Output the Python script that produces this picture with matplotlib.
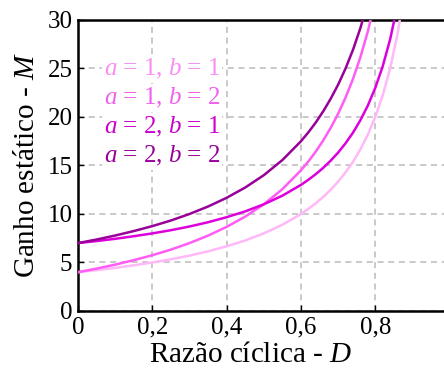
import matplotlib
matplotlib.use("Agg")
import matplotlib.pyplot as plt

# duty cycle values and static gain
D = [0, 0.05, 0.1, 0.15, 0.2, 0.25, 0.3, 0.35, 0.4, 0.45, 0.5, 0.55, 0.6,
     0.62, 0.64, 0.66, 0.68, 0.70, 0.72, 0.74, 0.76, 0.78, 0.80, 0.82,
     0.84, 0.86, 0.88]
M_a1b1 = [4.00, 4.21, 4.44, 4.71, 5.00, 5.33, 5.71, 6.15, 6.67, 7.27, 8.00,
          8.89, 10.00, 10.53, 11.11, 11.76, 12.50, 13.33, 14.29, 15.38, 16.67,
          18.18, 20.00, 22.22, 25.00, 28.57, 33.33]
M_a1b2 = [4.00, 4.37, 4.78, 5.24, 5.75, 6.33, 7.00, 7.77, 8.67, 9.73, 11.00,
          12.56, 14.50, 15.42, 16.44, 17.59, 18.88, 20.33, 22.00, 23.92, 26.17,
          28.82, 32.00, 35.89, 40.75, 47.00, 55.33]
M_a2b1 = [7.00, 7.21, 7.44, 7.71, 8.00, 8.33, 8.71, 9.15, 9.67, 10.27, 11.00,
          11.89, 13.00, 13.53, 14.11, 14.76, 15.50, 16.33, 17.29, 18.38, 19.67,
          21.18, 23.00, 25.22, 28.00, 31.57, 36.33]
M_a2b2 = [7.00, 7.37, 7.78, 8.24, 8.75, 9.33, 10.00, 10.77, 11.67, 12.73, 14.00,
          15.56, 17.50, 18.42, 19.44, 20.59, 21.88, 23.33, 25.00, 26.92, 29.17,
          31.82, 35.00, 38.89, 43.75, 50.00, 58.33]

labels = [r"$a$ = 1, $b$ = 1", r"$a$ = 1, $b$ = 2",
          r"$a$ = 2, $b$ = 1", r"$a$ = 2, $b$ = 2"]
line_colors = ["#ffb8f8", "#ff5cf5", "#dd00dd", "#990099"]
text_colors = ["#f98ef2", "#f060ec", "#cc00cc", "#990099"]

x_ticks = [0, 0.2, 0.4, 0.6, 0.8]
x_ticklabels = ["0", "0,2", "0,4", "0,6", "0,8"]
y_ticks = [0, 5, 10, 15, 20, 25, 30]

plt.rcParams["font.family"] = ["Liberation Serif", "DejaVu Serif"]
plt.rcParams["mathtext.fontset"] = "custom"
plt.rcParams["mathtext.rm"] = "Liberation Serif"
plt.rcParams["mathtext.it"] = "Liberation Serif:italic"

fig = plt.figure(figsize=(4.44, 3.69), dpi=100)
ax = fig.add_axes([0.1757, 0.1572, 0.8243, 0.7886])

for ys, c in zip([M_a1b1, M_a1b2, M_a2b1, M_a2b2], line_colors):
    ax.plot(D, ys, color=c, lw=1.8, zorder=3)

ax.set_xlim(0, 0.985)
ax.set_ylim(0, 30)
ax.set_xticks(x_ticks)
ax.set_xticklabels(x_ticklabels)
ax.set_yticks(y_ticks)
ax.tick_params(direction="in", length=4, width=1, labelsize=18)
ax.tick_params(axis="x", pad=4)
ax.tick_params(axis="y", pad=4)
ax.grid(True, color="#bbbbbb", ls=(0, (4, 3)), lw=1.1)
for s in ["left", "bottom", "top"]:
    ax.spines[s].set_linewidth(1.8)
ax.spines["right"].set_visible(False)

ax.set_xlabel(r"Razão cíclica - $D$", fontsize=21, va="center")
ax.xaxis.set_label_coords(0.47, -0.15)
ax.set_ylabel(r"Ganho estático - $M$", fontsize=21, va="center")
ax.yaxis.set_label_coords(-0.14, 0.502)

for i, (lab, c) in enumerate(zip(labels, text_colors)):
    ax.text(0.07, 25 - 3.02 * i, lab, color=c, fontsize=18, va="center",
            ha="left", zorder=4,
            bbox=dict(facecolor="white", edgecolor="none", pad=1.5))

fig.savefig("out.png", dpi=100)
